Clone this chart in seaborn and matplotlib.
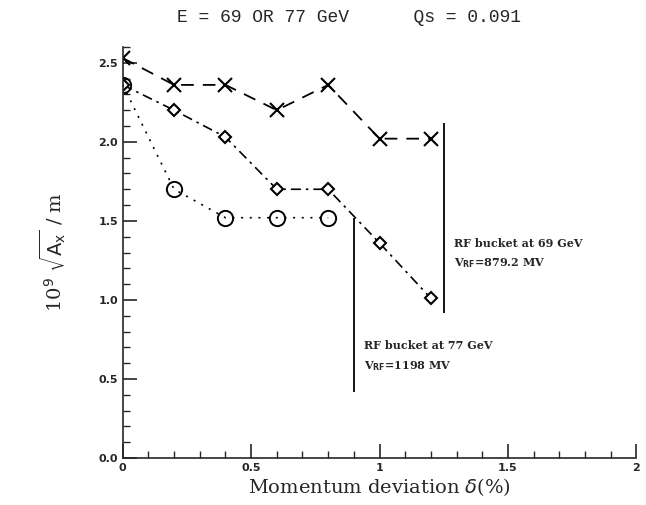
import matplotlib
matplotlib.use("Agg")
import matplotlib.pyplot as plt
import seaborn as sns
import pandas as pd
from matplotlib.ticker import MultipleLocator, FixedFormatter, FixedLocator

# momentum deviation (%) and 10^9 sqrt(Ax)/m values
delta = [0.0, 0.2, 0.4, 0.6, 0.8, 1.0, 1.2]
cross_vals = [2.53, 2.36, 2.36, 2.20, 2.36, 2.02, 2.02]
diamond_vals = [2.36, 2.20, 2.03, 1.70, 1.70, 1.36, 1.01]
circle_delta = [0.0, 0.2, 0.4, 0.6, 0.8]
circle_vals = [2.36, 1.70, 1.52, 1.52, 1.52]

xticks = [0, 0.5, 1, 1.5, 2]
xticklabels = ["0", "0.5", "1", "1.5", "2"]
yticks = [0.0, 0.5, 1.0, 1.5, 2.0, 2.5]
yticklabels = ["0.0", "0.5", "1.0", "1.5", "2.0", "2.5"]

df_x = pd.DataFrame({"delta": delta, "val": cross_vals})
df_d = pd.DataFrame({"delta": delta, "val": diamond_vals})
df_o = pd.DataFrame({"delta": circle_delta, "val": circle_vals})

sns.set_theme(style="ticks")
plt.rcParams["font.family"] = ["DejaVu Serif"]
fig = plt.figure(figsize=(6.46, 5.05), dpi=100)
ax = fig.add_axes([0.19, 0.093, 0.795, 0.814])

sns.lineplot(data=df_x, x="delta", y="val", ax=ax, color="black", lw=1.3,
             marker="x", markersize=10, mew=1.5, mec="black")
ax.lines[-1].set_dashes([7, 5])
sns.lineplot(data=df_d, x="delta", y="val", ax=ax, color="black", lw=1.2,
             marker="D", markersize=6, mew=1.5, mfc="white", mec="black")
ax.lines[-1].set_dashes([6, 3, 1.5, 3])
sns.lineplot(data=df_o, x="delta", y="val", ax=ax, color="black", lw=1.2,
             marker="o", markersize=11, mew=1.4, mfc="none", mec="black")
ax.lines[-1].set_dashes([1.2, 4])

# RF bucket limits
ax.vlines(1.25, 0.92, 2.12, color="black", lw=1.3)
ax.vlines(0.9, 0.42, 1.52, color="black", lw=1.3)
ax.text(1.29, 1.36, "RF bucket at 69 GeV", fontsize=8, fontweight="bold", va="center")
ax.text(1.29, 1.23, r"V$_{\mathbf{RF}}$=879.2 MV", fontsize=8, fontweight="bold", va="center")
ax.text(0.94, 0.71, "RF bucket at 77 GeV", fontsize=8, fontweight="bold", va="center")
ax.text(0.94, 0.58, r"V$_{\mathbf{RF}}$=1198 MV", fontsize=8, fontweight="bold", va="center")

ax.set_xlim(0, 2)
ax.set_ylim(0, 2.6)
ax.xaxis.set_major_locator(FixedLocator(xticks))
ax.xaxis.set_major_formatter(FixedFormatter(xticklabels))
ax.xaxis.set_minor_locator(MultipleLocator(0.1))
ax.yaxis.set_major_locator(FixedLocator(yticks))
ax.yaxis.set_major_formatter(FixedFormatter(yticklabels))
ax.yaxis.set_minor_locator(MultipleLocator(0.1))
ax.tick_params(which="major", direction="in", length=10, width=1.2, labelsize=8)
ax.tick_params(which="minor", direction="in", length=5, width=1)
for lab in ax.get_xticklabels() + ax.get_yticklabels():
    lab.set_fontweight("bold")
    lab.set_family("DejaVu Sans")
sns.despine(ax=ax)
ax.spines["left"].set_linewidth(1.2)
ax.spines["bottom"].set_linewidth(1.2)

ax.set_xlabel(r"Momentum deviation $\delta$(%)", fontsize=14, labelpad=2)
ax.set_ylabel(r"10$^9$ $\sqrt{\mathrm{A_x}}$ / m", fontsize=14, labelpad=22)
fig.text(0.54, 0.966, "E = 69 OR 77 GeV      Qs = 0.091", ha="center", va="center",
         fontsize=13, family="Liberation Mono")

fig.savefig("out.png", dpi=100)
